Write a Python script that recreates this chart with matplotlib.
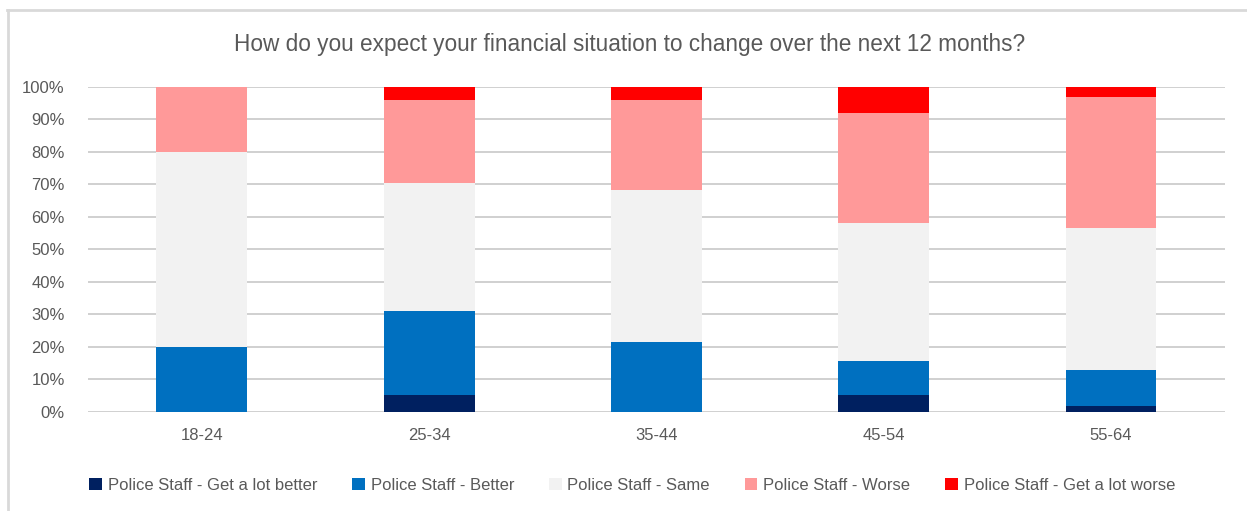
import numpy as np
import matplotlib.pyplot as plt
from matplotlib.lines import Line2D
from matplotlib.ticker import PercentFormatter

# Age bands and response shares (percent of respondents)
age_groups = ["18-24", "25-34", "35-44", "45-54", "55-64"]
lot_better = [0.0, 5.0, 0.0, 5.1, 1.8]
better = [20.0, 26.0, 21.4, 10.5, 11.0]
same = [60.0, 39.5, 46.8, 42.4, 43.8]
worse = [20.0, 25.5, 27.6, 34.0, 40.1]
lot_worse = [0.0, 4.0, 4.2, 8.0, 3.3]

series_labels = [
    "Police Staff - Get a lot better",
    "Police Staff - Better",
    "Police Staff - Same",
    "Police Staff - Worse",
    "Police Staff - Get a lot worse",
]
series_colors = ["#002060", "#0070C0", "#F2F2F2", "#FF9999", "#FF0000"]

title = "How do you expect your financial situation to change over the next 12 months?"

sans = ["Liberation Sans", "DejaVu Sans"]
text_grey = "#595959"

fig = plt.figure(figsize=(12.47, 5.11), dpi=100)
ax = fig.add_axes([0.0708, 0.1943, 0.9113, 0.636])

x = np.arange(len(age_groups))
bottom = np.zeros(len(age_groups))
for vals, lab, col in zip([lot_better, better, same, worse, lot_worse],
                          series_labels, series_colors):
    v = np.array(vals) / 100.0
    ax.bar(x, v, width=0.4, bottom=bottom, color=col, label=lab,
           linewidth=0, zorder=3)
    bottom += v

ax.set_xlim(-0.5, len(age_groups) - 0.5)
ax.set_ylim(0, 1)
ax.set_yticks(np.linspace(0, 1, 11))
ax.yaxis.set_major_formatter(PercentFormatter(1.0, decimals=0))
ax.set_xticks(x)
ax.set_xticklabels(age_groups)

ax.grid(axis="y", color="#D0D0D0", linewidth=1.4, zorder=0)
ax.set_axisbelow(True)
for s in ax.spines.values():
    s.set_visible(False)
ax.tick_params(axis="both", length=0, labelsize=12, labelcolor=text_grey)
for lbl in ax.get_xticklabels() + ax.get_yticklabels():
    lbl.set_family(sans)
ax.tick_params(axis="y", pad=17)
ax.tick_params(axis="x", pad=12)

fig.text(0.505, 0.912, title, ha="center", va="center", fontsize=16.3,
         color=text_grey, family=sans)

leg = ax.legend(loc="center", bbox_to_anchor=(0.507, 0.05),
                bbox_transform=fig.transFigure, ncol=5, frameon=False,
                handlelength=0.75, handleheight=0.75, handletextpad=0.35,
                columnspacing=2.1, prop={"family": sans, "size": 12})
for t in leg.get_texts():
    t.set_color(text_grey)

# light outer frame along the top and left edges
fig.add_artist(Line2D([7 / 1247, 1.0], [1 - 10.5 / 511] * 2,
                      transform=fig.transFigure, color="#D9D9D9", linewidth=2))
fig.add_artist(Line2D([7.5 / 1247] * 2, [0.0, 1 - 10 / 511],
                      transform=fig.transFigure, color="#D9D9D9", linewidth=2))

fig.savefig("out.png", dpi=100, facecolor="white")
